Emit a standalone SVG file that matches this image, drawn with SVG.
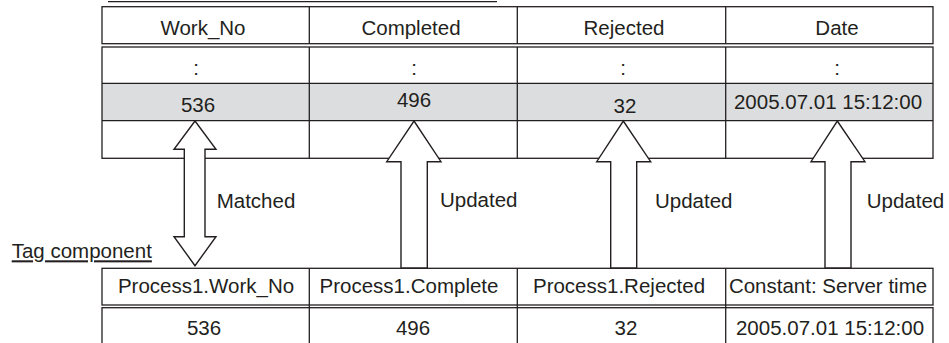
<svg xmlns="http://www.w3.org/2000/svg" width="949" height="343" viewBox="0 0 949 343">
<style>
.t{font-family:"Liberation Sans",Arial,sans-serif;font-size:20.5px;fill:#231f20}
.c{text-anchor:middle}
.ln{stroke:#231f20;stroke-width:1.3;fill:none}
.gray{fill:#dcdddf}
.arr{fill:#fff;stroke:#231f20;stroke-width:1.4;stroke-linejoin:miter}
</style>
<rect width="949" height="343" fill="#fff"/>
<line class="ln" x1="108" y1="1.7" x2="497" y2="1.7"/>
<g id="database-table">
<rect class="gray" x="102" y="83.3" width="831" height="37.4"/>
<rect class="ln" x="102" y="6.7" width="831" height="37"/>
<rect class="ln" x="102" y="47" width="831" height="111.3"/>
<line class="ln" x1="102" y1="83.3" x2="933" y2="83.3"/>
<line class="ln" x1="102" y1="120.7" x2="933" y2="120.7"/>
<line class="ln" x1="309.3" y1="6.7" x2="309.3" y2="43.7"/>
<line class="ln" x1="517.3" y1="6.7" x2="517.3" y2="43.7"/>
<line class="ln" x1="725.7" y1="6.7" x2="725.7" y2="43.7"/>
<line class="ln" x1="309.3" y1="47" x2="309.3" y2="158.3"/>
<line class="ln" x1="517.3" y1="47" x2="517.3" y2="158.3"/>
<line class="ln" x1="725.7" y1="47" x2="725.7" y2="158.3"/>
<text class="t c" x="203" y="35">Work_No</text>
<text class="t c" x="411" y="35">Completed</text>
<text class="t c" x="624" y="35">Rejected</text>
<text class="t c" x="837" y="35">Date</text>
<text class="t c" x="196" y="75">:</text>
<text class="t c" x="414" y="75">:</text>
<text class="t c" x="623" y="75">:</text>
<text class="t c" x="837" y="75">:</text>
<text class="t c" x="198" y="111.7">536</text>
<text class="t c" x="414" y="106.7">496</text>
<text class="t c" x="625" y="113.3">32</text>
<text class="t c" x="828" y="109.3">2005.07.01 15:12:00</text>
</g>
<g id="tag-component">
<text class="t" x="11.7" y="258.3" text-decoration="underline">Tag component</text>
<rect class="ln" x="102" y="268.3" width="831" height="36.7"/>
<rect class="ln" x="102" y="307.7" width="831" height="40"/>
<line class="ln" x1="309.3" y1="268.3" x2="309.3" y2="343"/>
<line class="ln" x1="517.3" y1="268.3" x2="517.3" y2="343"/>
<line class="ln" x1="725.7" y1="268.3" x2="725.7" y2="343"/>
<text class="t c" x="206" y="293.3">Process1.Work_No</text>
<text class="t c" x="409" y="293.3">Process1.Complete</text>
<text class="t c" x="619" y="293.3">Process1.Rejected</text>
<text class="t c" x="828" y="293.3">Constant: Server time</text>
<text class="t c" x="204" y="335">536</text>
<text class="t c" x="413" y="335">496</text>
<text class="t c" x="626" y="335">32</text>
<text class="t c" x="830" y="335">2005.07.01 15:12:00</text>
</g>
<g id="connectors">
<polygon class="arr" points="195,121 216,149.3 205,149.3 205,236.7 216,236.7 195,265.7 174,236.7 184.3,236.7 184.3,149.3 174,149.3"/>
<polygon class="arr" points="414,121 441,161.7 427.3,161.7 427.3,268 401,268 401,161.7 386.7,161.7"/>
<polygon class="arr" points="623.3,121 650.7,161.7 636.7,161.7 636.7,268 610.7,268 610.7,161.7 596.7,161.7"/>
<polygon class="arr" points="837.3,121 865,161.7 851,161.7 851,268 825,268 825,161.7 811,161.7"/>
<text class="t" x="216.7" y="208.3">Matched</text>
<text class="t" x="440" y="206.7">Updated</text>
<text class="t" x="655" y="208.3">Updated</text>
<text class="t" x="866.7" y="208.3">Updated</text>
</g>
</svg>
